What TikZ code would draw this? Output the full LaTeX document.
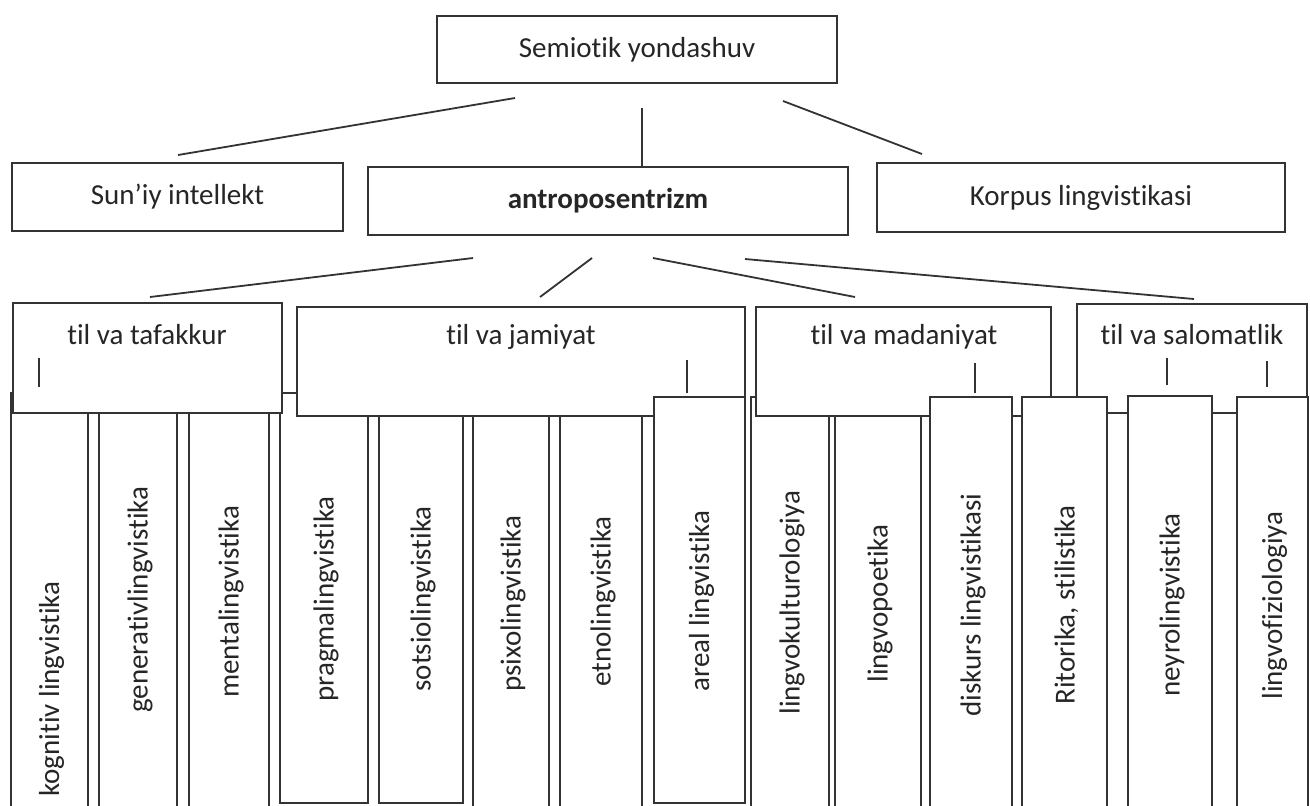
\documentclass[tikz,border=0pt]{standalone}
\usepackage{fontspec}
\setmainfont{Carlito}[Ligatures=NoCommon]
\tikzset{
  box/.style={draw=black!80, line width=0.9pt, fill=white, inner sep=0pt},
  ln/.style={draw=black!80, line width=0.9pt},
  txt/.style={text=black!85, inner sep=0pt},
  coltxt/.style={txt, rotate=90, anchor=west},
}
\begin{document}
\begin{tikzpicture}[x=0.5pt, y=-0.5pt, font=\fontsize{14.5}{17}\selectfont]
	\useasboundingbox (0,0) rectangle (1310,805);
	\clip (0,0) rectangle (1310,805);

%top boxes
	\node[box, txt, minimum width=200pt, minimum height=33.5pt] (sem) at (637,49.5) {Semiotik yondashuv};
	\node[box, txt, minimum width=165.5pt, minimum height=34pt] (suniy) at (177.5,197) {Sun’iy intellekt};
	\node[box, txt, minimum width=240pt, minimum height=34pt, font=\fontsize{14.5}{17}\selectfont\bfseries] (antro) at (608,201) {antroposentrizm};
	\node[box, txt, minimum width=204pt, minimum height=34.5pt] (korpus) at (1081,197.5) {Korpus lingvistikasi};

%line ends
	\foreach \name/\x/\y in {s1/515/98, s2/642/108, s3/783/101, k1/178/155, k3/922/154,
		a1/473/258, a2/592/258, a3/653/258, a4/745/259,
		b1/150/297, b2/540/297, b3/855/297, b4/1194/299} {
		\coordinate (\name) at (\x,\y);
	}

%lines
	\draw[ln] (s1) -- (k1);
	\draw[ln] (s2) -- (s2 |- antro.north);
	\draw[ln] (s3) -- (k3);
	\draw[ln] (a1) -- (b1);
	\draw[ln] (a2) -- (b2);
	\draw[ln] (a3) -- (b3);
	\draw[ln] (a4) -- (b4);

%columns under the headers
	\foreach \xa/\xb/\yt/\yb/\ty/\name/\txt in {
		{11/88/393/810/797/kog/{kognitiv lingvistika}},
		{99/177/395/810/713/gen/{generativlingvistika}},
		{189/269/395/810/698/men/{mentalingvistika}},
		{280/368/393/803/702/pra/{pragmalingvistika}},
		{379/463/395/803/692/sot/{sotsiolingvistika}},
		{473/549/395/810/692/psi/{psixolingvistika}},
		{560/642/395/810/687/etn/{etnolingvistika}},
		{751/829/397/810/715/lku/{lingvokulturologiya}},
		{835/921/397/810/683/lpo/{lingvopoetika}}} {
		\draw[box] (\xa,\yt) rectangle (\xb,\yb);
		\node[coltxt] (\name) at ({(\xa+\xb)/2+2}, \ty) {\txt};
	}

%headers
	\foreach \xa/\ya/\xb/\yb/\tx/\ty/\name/\txt in {
		{13/303/282/413/147/335/taf/{til va tafakkur}},
		{297/307/745/416/521/337/jam/{til va jamiyat}},
		{756/307/1051/416/904/337/mad/{til va madaniyat}},
		{1077/304/1307/413/1192/335/sal/{til va salomatlik}}} {
		\draw[box] (\xa,\ya) rectangle (\xb,\yb);
		\node[txt] (\name) at (\tx,\ty) {\txt};
	}

%columns over the headers
	\foreach \xa/\xb/\yt/\yb/\ty/\name/\txt in {
		{654/745/397/803/692/are/{areal lingvistika}},
		{930/1012/397/810/717/dis/{diskurs lingvistikasi}},
		{1022/1107/397/810/705/rit/{Ritorika, stilistika}},
		{1128/1212/396/810/697/ney/{neyrolingvistika}},
		{1237/1308/397/810/700/lfz/{lingvofiziologiya}}} {
		\draw[box] (\xa,\yt) rectangle (\xb,\yb);
		\node[coltxt] (\name) at ({(\xa+\xb)/2+2}, \ty) {\txt};
	}

%ticks
	\foreach \x/\ya/\yb in {39/358/387, 687/360/393, 975/363/393, 1167/358/385, 1267/361/387} {
		\draw[ln] (\x,\ya) -- (\x,\yb);
	}

\end{tikzpicture}
\end{document}
